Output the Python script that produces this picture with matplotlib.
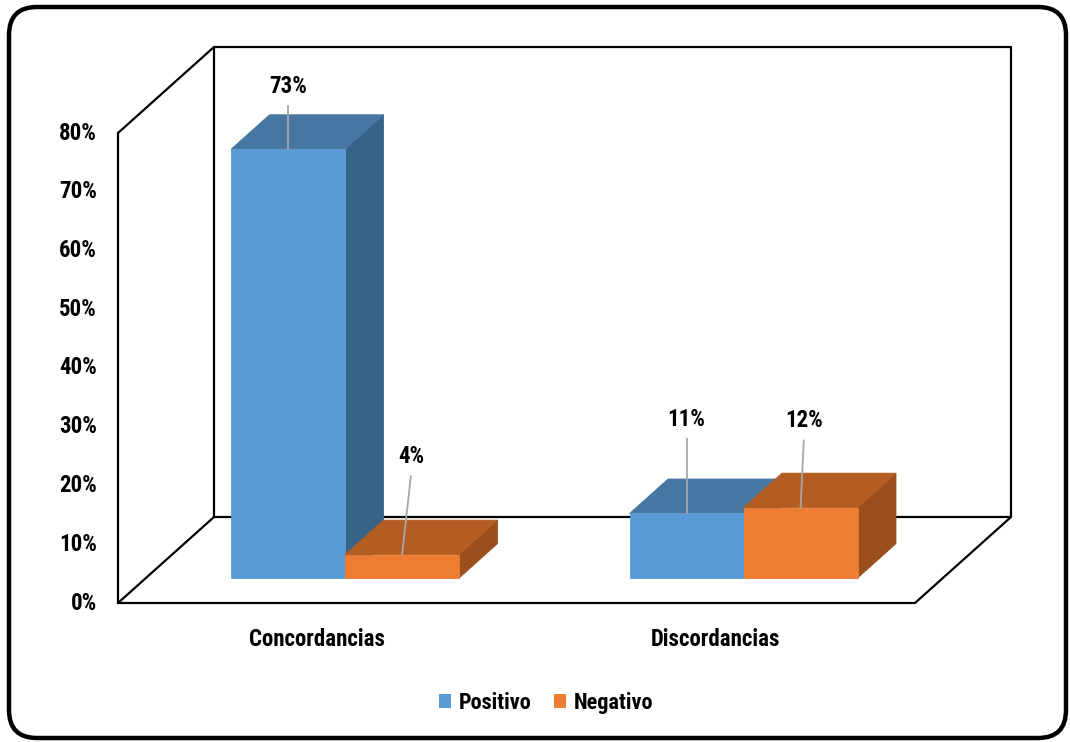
import matplotlib
matplotlib.use('Agg')
import matplotlib.pyplot as plt
import matplotlib.patches as patches
from matplotlib import font_manager

# data
categories = ['Concordancias', 'Discordancias']
series = ['Positivo', 'Negativo']
positivo = [73, 11]
negativo = [4, 12]
yticks = [0, 10, 20, 30, 40, 50, 60, 70, 80]

# label offsets above bar top (percent units) and small x nudges
lab_dy = [[10.7, 16.0], [16.7, 14.8]]
lab_dx = [[0.0, 0.0], [0.022, 0.008]]

names = {f.name for f in font_manager.fontManager.ttflist}
fam = 'DejaVu Sans'
for cand in ['Liberation Sans Narrow', 'Roboto Condensed', 'Open Sans Condensed', 'Liberation Sans']:
    if cand in names:
        fam = cand
        break
plt.rcParams['font.family'] = fam
FS = 16.5

W, H = 1070, 742
fig = plt.figure(figsize=(W/100, H/100), dpi=100)

# outer rounded frame
bg = fig.add_axes([0, 0, 1, 1])
bg.set_xlim(0, W); bg.set_ylim(H, 0); bg.axis('off')
bg.add_patch(patches.FancyBboxPatch((9, 7), 1057, 731, boxstyle='round,pad=0,rounding_size=28',
                                    fc='white', ec='black', lw=3.2))

# plot area (front plane)
x0p, x1p, y0p, y1p = 118, 915, 603, 133
ax = fig.add_axes([x0p/W, (H-y0p)/H, (x1p-x0p)/W, (y0p-y1p)/H])
ax.set_xlim(0, 2); ax.set_ylim(0, 80); ax.axis('off')
pxx = (x1p-x0p)/2.0
pxy = (y0p-y1p)/80.0
DX = 96/pxx
DY = 86/pxy

lk = dict(color='black', lw=1.6, clip_on=False, solid_capstyle='round')
# walls
ax.plot([0, 0], [0, 80], **lk)
ax.plot([0, 2], [0, 0], **lk)
ax.plot([0, DX], [80, 80+DY], **lk)
ax.plot([0, DX], [0, DY], **lk)
ax.plot([DX, DX, 2+DX, 2+DX, DX], [DY, 80+DY, 80+DY, DY, DY], **lk)
ax.plot([2, 2+DX], [0, DY], **lk)

d0, d1 = 0.29, 0.69
bw = 0.286
colors = {'Positivo': ('#5b9bd5', '#4676a2', '#376389'),
          'Negativo': ('#ed7d31', '#b45d22', '#9a4f1c')}

def face(pts, c):
    ax.add_patch(patches.Polygon(pts, fc=c, ec=c, lw=0.6, clip_on=False, zorder=3))

def box(xl, h, cols):
    fx = xl + d0*DX; fy = d0*DY
    bx = (d1-d0)*DX; by = (d1-d0)*DY
    front, top, side = cols
    face([(fx+bw, fy), (fx+bw+bx, fy+by), (fx+bw+bx, fy+h+by), (fx+bw, fy+h)], side)
    face([(fx, fy+h), (fx+bw, fy+h), (fx+bw+bx, fy+h+by), (fx+bx, fy+h+by)], top)
    face([(fx, fy), (fx+bw, fy), (fx+bw, fy+h), (fx, fy+h)], front)
    return fx + bw/2, fy + h

vals = [positivo, negativo]
for i, cat in enumerate(categories):
    c = i + 0.5
    for j, s in enumerate(series):
        xl = c - bw + j*bw
        v = vals[j][i]
        tx, ty = box(xl, v, colors[s])
        lx = tx + lab_dx[j][i]
        ly = ty + lab_dy[j][i]
        ax.plot([lx, tx], [ly - 3.4, ty], color='#a6a6a6', lw=1.3, clip_on=False, zorder=4)
        ax.text(lx, ly, f'{v}%', ha='center', va='center', fontsize=FS,
                fontweight='bold', zorder=5)

for v in yticks:
    ax.text(-21/pxx, v, f'{v}%', ha='right', va='center', fontsize=FS, fontweight='bold')

for i, cat in enumerate(categories):
    ax.text(i + 0.5, -37/pxy, cat, ha='center', va='center', fontsize=FS, fontweight='bold')

handles = [patches.Patch(fc=colors[s][0], ec='none', label=s) for s in series]
fig.legend(handles=handles, loc='center', bbox_to_anchor=(546/W, 1 - 703/H), ncol=2,
           frameon=False, handlelength=0.55, handleheight=0.55, handletextpad=0.35,
           columnspacing=1.0, prop=dict(size=16, weight='bold'))

fig.savefig('out.png', dpi=100)
